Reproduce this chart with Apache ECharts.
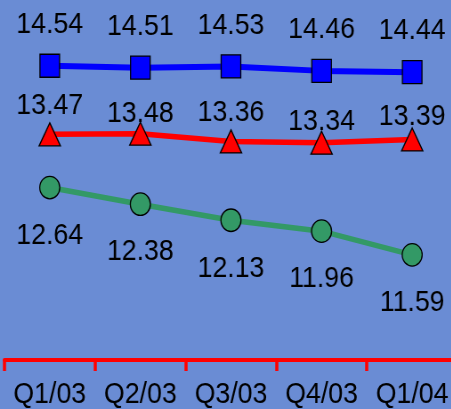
<!DOCTYPE html>
<html>
<head>
<meta charset="utf-8">
<script src="https://cdn.jsdelivr.net/npm/echarts@6/dist/echarts.min.js"></script>
<style>
  html, body { margin: 0; padding: 0; background: #6a8cd4; overflow: hidden; }
  #wrap { width: 451px; height: 409px; overflow: hidden; }
  /* the drawing is laid out wider, then narrowed to the page width */
  #chart { width: 507px; height: 409px; transform: scaleX(0.89); transform-origin: 0 0; }
</style>
</head>
<body>
<div id="wrap"><div id="chart"></div></div>
<script>
// Quarterly values for the three tracked series
const quarters = ['Q1/03', 'Q2/03', 'Q3/03', 'Q4/03', 'Q1/04'];
const blueValues = [14.54, 14.51, 14.53, 14.46, 14.44];
const redValues = [13.47, 13.48, 13.36, 13.34, 13.39];
const greenValues = [12.64, 12.38, 12.13, 11.96, 11.59];

// Vertical label shifts (px) for the red series, placed point by point
const redLabelLift = [-29, -20, -29, -21, -23];

const labelFont = { fontFamily: 'Liberation Sans, Arial, sans-serif', fontSize: 30, color: '#000' };

function seriesOf(name, values, color, symbol, size, lineWidth, labelShift) {
  return {
    name: name,
    type: 'line',
    data: values.map((v, i) => ({
      value: v,
      label: { offset: [0, Array.isArray(labelShift) ? labelShift[i] : labelShift] }
    })),
    symbol: symbol,
    symbolSize: size,
    lineStyle: { color: color, width: lineWidth },
    itemStyle: { color: color, borderColor: '#000', borderWidth: 1.3 },
    label: Object.assign({
      show: true,
      position: 'inside',
      formatter: p => p.value.toFixed(2)
    }, labelFont),
    emphasis: { disabled: true },
    animation: false,
    z: 3
  };
}

const chart = echarts.init(document.getElementById('chart'));
chart.setOption({
  backgroundColor: '#6a8cd4',
  animation: false,
  grid: { left: 5, width: 509, top: 1, bottom: 49, containLabel: false, outerBoundsMode: 'none' },
  xAxis: {
    type: 'category',
    data: quarters,
    boundaryGap: true,
    axisLine: { show: true, lineStyle: { color: '#ff0000', width: 4 } },
    axisTick: { show: true, alignWithLabel: false, length: 11, lineStyle: { color: '#ff0000', width: 3.5 } },
    axisLabel: Object.assign({ margin: 20, interval: 0, hideOverlap: false }, labelFont),
    splitLine: { show: false }
  },
  yAxis: {
    type: 'value',
    min: 9.95,
    max: 15.55,
    show: false,
    splitLine: { show: false }
  },
  series: [
    seriesOf('blue', blueValues, '#0000ff', 'rect', [22, 23], 6, -41),
    seriesOf('red', redValues, '#ff0000', 'triangle', [24, 23], 5.5, redLabelLift),
    seriesOf('green', greenValues, '#339966', 'circle', [22.5, 22.5], 5.5, 48)
  ]
});
</script>
</body>
</html>
